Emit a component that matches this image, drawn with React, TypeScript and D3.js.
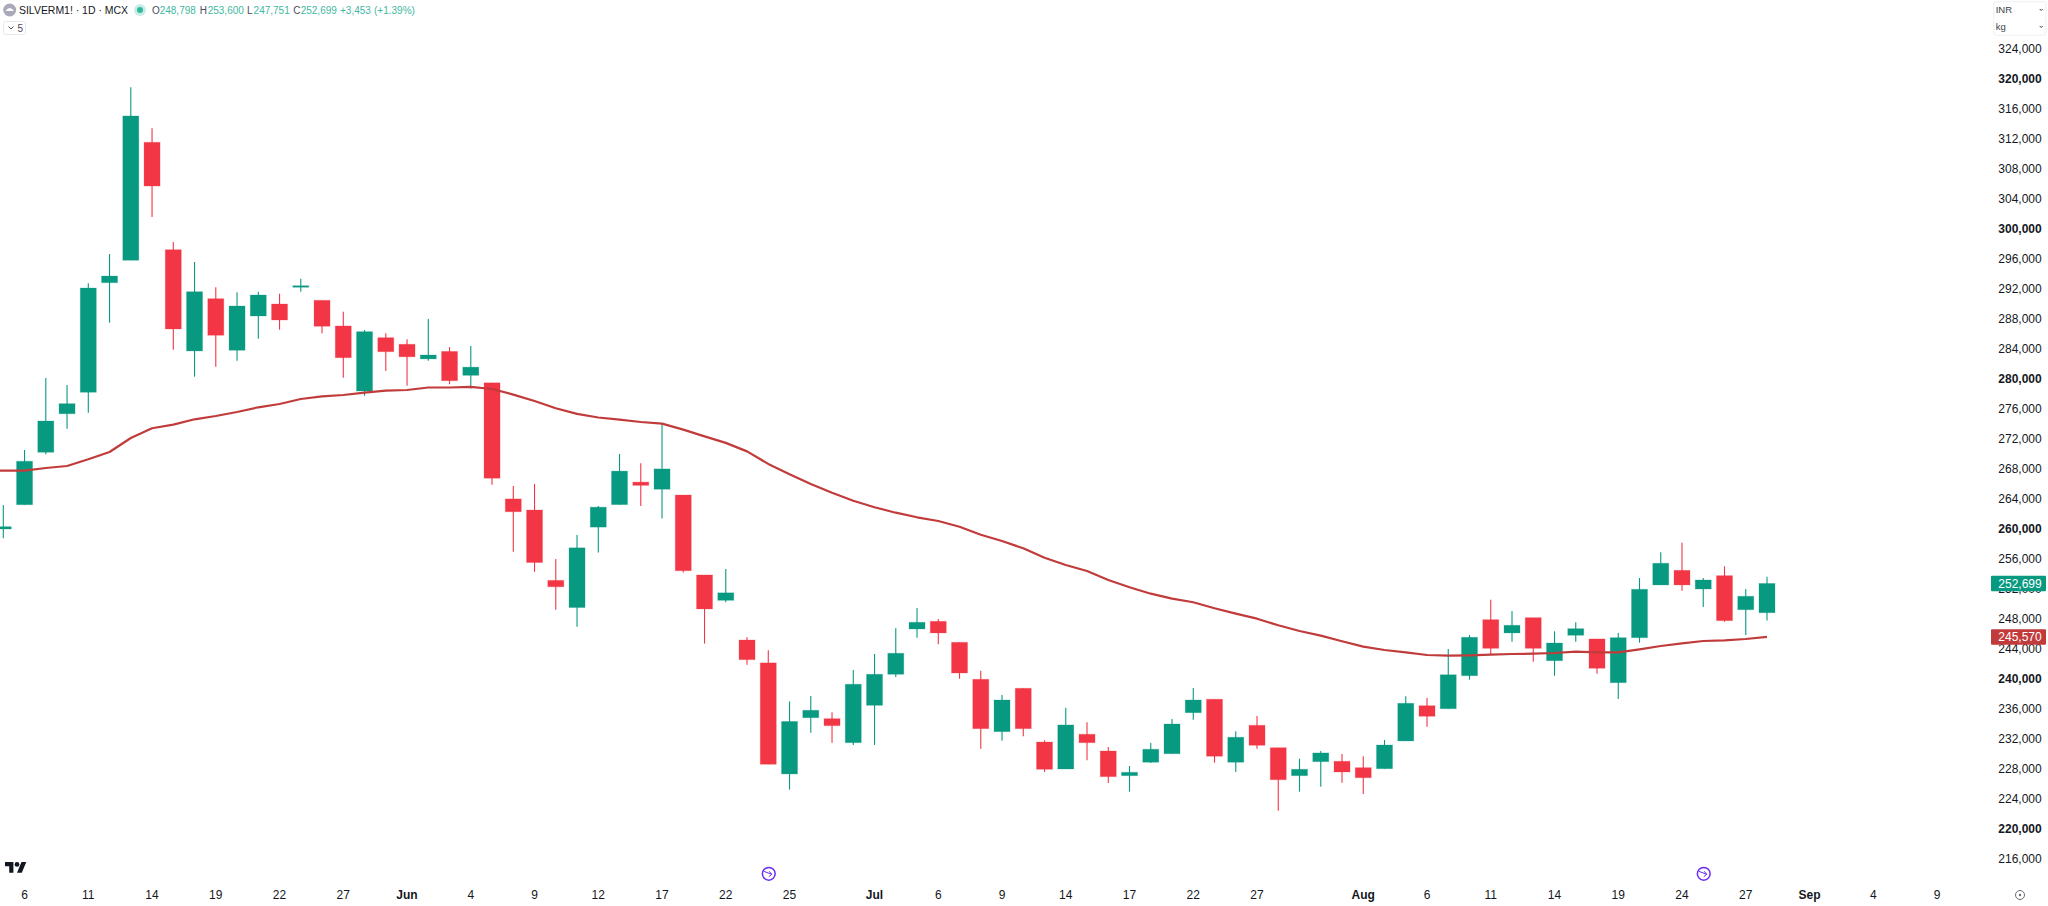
import { useEffect, useRef } from 'react'
import * as d3 from 'd3'

const WIDTH = 2048
const HEIGHT = 906
const GREEN = '#089981'
const RED = '#F23645'
const SMA_RED = '#C23B3B'
const TEXT = '#131722'
const FONT = '"Liberation Sans", Arial, sans-serif'

const opens = [
  259960, 263200, 270190, 275330, 278190, 292800, 295790, 311520, 297200, 283700, 290670, 283790,
  288360, 289960, 292190, 290450, 287030, 278360, 285470, 284590, 282640, 283640, 280450, 279450,
  263970, 262490, 253110, 249490, 260210, 263210, 266210, 265260, 264490, 253830, 250450, 245160,
  242110, 227300, 234800, 234670, 231470, 236450, 240590, 246630, 247650, 244850, 239920, 232940,
  238720, 231560, 227960, 232590, 230360, 227070, 228860, 230000, 235470, 237260, 228860, 233790,
  230800, 227070, 228940, 228990, 228140, 228000, 231700, 236400, 236000, 240400, 247870, 246100,
  248140, 242400, 245790, 245300, 239470, 245470, 252500, 254450, 251960, 253740, 249200, 248798,
]
const highs = [
  263160, 270490, 280090, 279160, 292720, 296630, 318850, 313390, 298230, 295560, 292190, 291520,
  291600, 291330, 293330, 290450, 288930, 286490, 286050, 285260, 287970, 284210, 284350, 279450,
  265680, 265970, 255970, 259160, 263020, 269970, 268730, 274020, 264490, 253830, 254640, 245540,
  243780, 236970, 237700, 235520, 241160, 243300, 246720, 249430, 247960, 244850, 241070, 237830,
  238720, 231790, 236130, 234190, 230900, 228360, 231430, 234630, 238760, 237260, 232990, 235030,
  230800, 229330, 230360, 229960, 229660, 231830, 237660, 237430, 243960, 245830, 250530, 249030,
  248140, 246320, 247520, 245300, 246100, 253430, 256850, 258140, 253430, 254990, 251960, 253600,
]
const lows = [
  258720, 263200, 269920, 273330, 275470, 287470, 295790, 301560, 283870, 280270, 281600, 282400,
  285330, 286530, 291600, 286050, 280130, 277730, 281030, 279070, 282400, 279260, 278680, 265870,
  256920, 254260, 249210, 246920, 256830, 263210, 263020, 261350, 254160, 244680, 250210, 241870,
  228590, 225210, 232800, 231470, 231160, 231160, 240230, 245470, 244590, 240000, 230670, 231740,
  232320, 227560, 227960, 229120, 226100, 224940, 228760, 230000, 234530, 228800, 227560, 230670,
  222400, 224940, 225600, 226140, 224630, 228000, 231700, 233600, 236000, 239870, 243250, 244930,
  242270, 240400, 244930, 240670, 237300, 244800, 252500, 251730, 249560, 247600, 245830, 247751,
]
const closes = [
  260270, 268990, 274360, 276670, 292090, 293690, 315030, 305690, 286630, 291600, 285790, 289690,
  291160, 287830, 292400, 286990, 282800, 286270, 283600, 282920, 283160, 279730, 281540, 266730,
  262260, 255490, 252260, 257450, 262870, 267680, 265780, 267970, 254400, 249300, 251450, 242540,
  228590, 234300, 235790, 233740, 239260, 240590, 243390, 247520, 246100, 240760, 233340, 237160,
  233340, 227920, 233830, 231470, 226940, 227520, 230590, 233960, 237160, 229660, 232190, 231120,
  226530, 227920, 230100, 227560, 226800, 231160, 236720, 234990, 240530, 245520, 244050, 247120,
  244050, 244760, 246670, 241390, 245470, 251920, 255390, 252500, 253160, 247740, 250990, 252699,
]
// moving average, the first value is the session just left of the visible bars
const sma = [
  267730, 267734, 267734, 268095, 268361, 269255, 270228, 272094, 273388, 273868, 274588, 275028,
  275561, 276188, 276628, 277294, 277654, 277828, 278134, 278401, 278494, 278827, 278827, 278921,
  278628, 277881, 277028, 276068, 275308, 274828, 274548, 274228, 274015, 273215, 272308, 271441,
  270308, 268641, 267255, 265961, 264801, 263734, 262854, 262134, 261521, 261028, 260268, 259201,
  258361, 257388, 256135, 255162, 254362, 253162, 252188, 251335, 250668, 250188, 249388, 248668,
  248002, 247121, 246362, 245735, 244988, 244268, 243828, 243521, 243161, 243068, 243121, 243201,
  243295, 243335, 243428, 243601, 243521, 243521, 243921, 244362, 244721, 245028, 245121, 245294,
  245570,
]

const priceTicks = d3.range(216000, 324001, 4000)
const dateTickBars = [
  1, 4, 7, 10, 13, 16, 19, 22, 25, 28, 31, 34, 37, 41, 44, 47, 50, 53, 56, 59, 64, 67, 70, 73, 76,
  79, 82, 85, 88, 91,
]
const dateTickLabels = [
  '6', '11', '14', '19', '22', '27', 'Jun', '4', '9', '12', '17', '22', '25', 'Jul', '6', '9', '14',
  '17', '22', '27', 'Aug', '6', '11', '14', '19', '24', '27', 'Sep', '4', '9',
]
const months = ['Jun', 'Jul', 'Aug', 'Sep']
const legendParts = [
  { x: 152, text: 'O', label: true },
  { x: 159.7, text: '248,798' },
  { x: 199.7, text: 'H', label: true },
  { x: 207.7, text: '253,600' },
  { x: 247, text: 'L', label: true },
  { x: 253.6, text: '247,751' },
  { x: 293.3, text: 'C', label: true },
  { x: 300.7, text: '252,699' },
  { x: 340, text: '+3,453' },
  { x: 374, text: '(+1.39%)' },
]
// bars that carry an earnings style marker under them
const markerBars = [36, 80]

const Chart = () => {
  const ref = useRef<SVGSVGElement>(null)

  useEffect(() => {
    const svg = d3.select(ref.current)
    svg.selectAll('*').remove()

    const x = d3.scaleLinear().domain([0, 83]).range([3.3, 1767])
    const y = d3.scaleLinear().domain([216000, 324000]).range([858.7, 48.7])
    const bars = d3.range(opens.length)
    const barColor = (i: number) => (closes[i] >= opens[i] ? GREEN : RED)

    // wicks
    svg
      .append('g')
      .selectAll('line')
      .data(bars)
      .join('line')
      .attr('x1', (i) => x(i))
      .attr('x2', (i) => x(i))
      .attr('y1', (i) => y(highs[i]))
      .attr('y2', (i) => y(lows[i]))
      .attr('stroke', barColor)
      .attr('stroke-width', 1.1)

    // bodies
    svg
      .append('g')
      .selectAll('rect')
      .data(bars)
      .join('rect')
      .attr('x', (i) => x(i) - 8)
      .attr('width', 16)
      .attr('y', (i) => y(Math.max(opens[i], closes[i])))
      .attr('height', (i) => Math.max(1.5, Math.abs(y(opens[i]) - y(closes[i]))))
      .attr('fill', barColor)
      .attr('stroke', barColor)
      .attr('stroke-opacity', 0.25)

    const line = d3
      .line<number>()
      .x((_, i) => x(i - 1))
      .y((d) => y(d))
    svg
      .append('path')
      .attr('d', line(sma))
      .attr('fill', 'none')
      .attr('stroke', SMA_RED)
      .attr('stroke-width', 2.2)
      .attr('stroke-linejoin', 'round')

    // price axis
    svg
      .append('g')
      .attr('font-family', FONT)
      .attr('font-size', 12)
      .attr('fill', TEXT)
      .selectAll('text')
      .data(priceTicks)
      .join('text')
      .attr('x', 1998.3)
      .attr('y', (d) => y(d))
      .attr('dy', '0.35em')
      .attr('font-weight', (d) => (d % 20000 === 0 ? 700 : 400))
      .text((d) => d3.format(',')(d))

    // last value tags
    const tags = [
      { value: closes[closes.length - 1], color: GREEN },
      { value: sma[sma.length - 1], color: SMA_RED },
    ]
    const tag = svg.append('g').attr('font-family', FONT).attr('font-size', 12).selectAll('g').data(tags).join('g')
    tag
      .append('rect')
      .attr('x', 1991)
      .attr('width', 55)
      .attr('y', (d) => y(d.value) - 7.8)
      .attr('height', 15.6)
      .attr('rx', 1)
      .attr('fill', (d) => d.color)
    tag
      .append('text')
      .attr('x', 1998.3)
      .attr('y', (d) => y(d.value))
      .attr('dy', '0.35em')
      .attr('fill', '#FFFFFF')
      .text((d) => d3.format(',')(d.value))

    // date axis
    svg
      .append('g')
      .attr('font-family', FONT)
      .attr('font-size', 12)
      .attr('fill', TEXT)
      .attr('text-anchor', 'middle')
      .selectAll('text')
      .data(dateTickBars)
      .join('text')
      .attr('x', (d) => x(d))
      .attr('y', 894.5)
      .attr('dy', '0.35em')
      .attr('font-weight', (_, i) => (months.includes(dateTickLabels[i]) ? 700 : 400))
      .text((_, i) => dateTickLabels[i])

    // markers above the date axis
    const marker = svg
      .append('g')
      .attr('fill', 'none')
      .attr('stroke', '#6A2CF5')
      .selectAll('g')
      .data(markerBars)
      .join('g')
      .attr('transform', (d) => `translate(${x(d) + 0.5},873.8)`)
    marker.append('circle').attr('r', 6.4).attr('stroke-width', 1.5).attr('fill', '#FFFFFF')
    marker.append('path').attr('d', 'M-5,-2.5 L3,0.5 M0.5,-2.5 L3,0.5 L0,3').attr('stroke-width', 1)

    // TradingView logo
    const logo = svg.append('g').attr('transform', 'translate(5,859.6) scale(0.6)').attr('fill', TEXT)
    logo.append('path').attr('d', 'M14 22H7V11H0V4h14v18zM28 22h-8l7.5-18h8L28 22z')
    logo.append('circle').attr('cx', 20).attr('cy', 8).attr('r', 4)

    // settings glyph in the corner
    const corner = svg.append('g').attr('transform', 'translate(2020,895)')
    corner.append('circle').attr('r', 4.5).attr('fill', 'none').attr('stroke', '#6A6D78')
    corner.append('circle').attr('r', 1.2).attr('fill', '#6A6D78')

    // legend row
    const head = svg.append('g').attr('font-family', FONT)
    head.append('circle').attr('cx', 9.7).attr('cy', 10).attr('r', 6.5).attr('fill', '#A9A9BA')
    head.append('path').attr('d', 'M5.5,11 Q9.7,5 14,11 Z').attr('fill', '#FFFFFF')
    head
      .append('text')
      .attr('x', 19)
      .attr('y', 10)
      .attr('dy', '0.35em')
      .attr('font-size', 11)
      .attr('textLength', 109)
      .attr('lengthAdjust', 'spacingAndGlyphs')
      .attr('fill', TEXT)
      .text('SILVERM1! · 1D · MCX')
    head.append('circle').attr('cx', 140).attr('cy', 10).attr('r', 6).attr('fill', '#C9ECE6')
    head.append('circle').attr('cx', 140).attr('cy', 10).attr('r', 3).attr('fill', '#2FB89E')
    head
      .append('g')
      .attr('font-size', 10)
      .selectAll('text')
      .data(legendParts)
      .join('text')
      .attr('x', (d) => d.x)
      .attr('y', 10)
      .attr('dy', '0.35em')
      .attr('fill', (d) => (d.label ? '#4A4E5A' : '#3FB8A2'))
      .text((d) => d.text)

    // collapsed indicators button
    head
      .append('rect')
      .attr('x', 3.5)
      .attr('y', 21.5)
      .attr('width', 22)
      .attr('height', 13)
      .attr('rx', 2)
      .attr('fill', '#FFFFFF')
      .attr('stroke', '#E6E8EE')
    head.append('path').attr('d', 'M8.5,26.5 L11,29 L13.5,26.5').attr('fill', 'none').attr('stroke', '#4A4E5A')
    head
      .append('text')
      .attr('x', 17.5)
      .attr('y', 28)
      .attr('dy', '0.35em')
      .attr('font-size', 10)
      .attr('fill', '#4A4E5A')
      .text('5')

    // currency and unit selector
    const unit = svg.append('g').attr('font-family', FONT)
    unit
      .append('rect')
      .attr('x', 1993.7)
      .attr('y', 1.7)
      .attr('width', 52.3)
      .attr('height', 33.6)
      .attr('rx', 3)
      .attr('fill', '#FFFFFF')
      .attr('stroke', '#EEF0F3')
    unit
      .selectAll('text')
      .data(['INR', 'kg'])
      .join('text')
      .attr('x', 1995.7)
      .attr('y', (_, i) => 10 + i * 17)
      .attr('dy', '0.35em')
      .attr('font-size', 9.5)
      .attr('fill', '#3A3E4A')
      .text((d) => d)
    unit
      .selectAll('path')
      .data([10, 27])
      .join('path')
      .attr('d', (d) => `M2039.7,${d - 1} L2041.2,${d + 0.5} L2042.7,${d - 1}`)
      .attr('fill', 'none')
      .attr('stroke', '#3A3E4A')
  }, [])

  return <svg ref={ref} width={WIDTH} height={HEIGHT} style={{ position: 'absolute', left: 0, top: 0, background: '#FFFFFF' }} />
}

const App = () => <Chart />

export default App
